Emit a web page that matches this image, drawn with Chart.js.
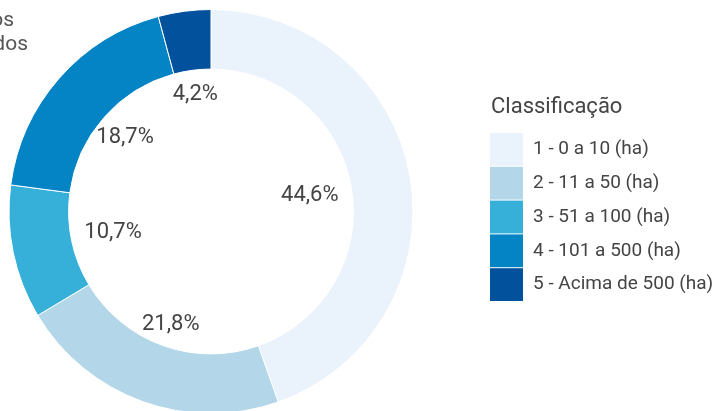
<!DOCTYPE html>
<html lang="pt-BR">
<head>
<meta charset="utf-8">
<title>Classificação por área</title>
<script src="https://cdn.jsdelivr.net/npm/chart.js@4.4.1/dist/chart.umd.min.js"></script>
<style>
  html, body { margin: 0; padding: 0; background: #ffffff; overflow: hidden; }
  canvas { display: block; }
</style>
</head>
<body>
<canvas id="chart" width="721" height="411"></canvas>
<script>
// Area classes (hectares) and their share of establishments, in %
const categories = ['1 - 0 a 10 (ha)', '2 - 11 a 50 (ha)', '3 - 51 a 100 (ha)', '4 - 101 a 500 (ha)', '5 - Acima de 500 (ha)'];
const shares = [44.6, 21.8, 10.7, 18.7, 4.2];
const sliceColors = ['#EAF2FC', '#B3D7E8', '#36AFD9', '#0484C5', '#01519D'];
const legendTitle = 'Classificação';
const titleLines = ['Estabelecimentos', 'classificados'];

const FONT = 'Roboto, "Noto Sans", sans-serif';
const TEXT = '#444444';

const fmtPct = v => v.toFixed(1).replace('.', ',') + '%';

// Percent labels just inside the hole, box edge kept a fixed distance from the ring
const pctLabels = {
  id: 'pctLabels',
  afterDatasetsDraw(chart) {
    const ctx = chart.ctx;
    const meta = chart.getDatasetMeta(0);
    ctx.save();
    ctx.font = '22px ' + FONT;
    ctx.fillStyle = TEXT;
    ctx.textAlign = 'center';
    ctx.textBaseline = 'middle';
    meta.data.forEach((arc, i) => {
      const p = arc.getProps(['x', 'y', 'startAngle', 'endAngle', 'innerRadius'], true);
      const mid = (p.startAngle + p.endAngle) / 2;
      const dx = Math.cos(mid), dy = Math.sin(mid);
      const txt = fmtPct(chart.data.datasets[0].data[i]);
      const w = ctx.measureText(txt).width;
      const h = 20;
      const r = p.innerRadius - 13;
      const tx = Math.abs(dx) > 1e-6 ? (w / 2) / Math.abs(dx) : Infinity;
      const ty = Math.abs(dy) > 1e-6 ? (h / 2) / Math.abs(dy) : Infinity;
      const t = Math.min(tx, ty);
      ctx.fillText(txt, p.x + dx * (r - t), p.y + dy * (r - t) + 1);
    });
    ctx.restore();
  }
};

// Legend with square swatches stacked on the right
const sideLegend = {
  id: 'sideLegend',
  afterDraw(chart) {
    const ctx = chart.ctx;
    const ds = chart.data.datasets[0];
    const x0 = 490, top = 133, box = 33, pitch = 33.8;
    ctx.save();
    ctx.fillStyle = TEXT;
    ctx.font = '22px ' + FONT;
    ctx.textAlign = 'left';
    ctx.textBaseline = 'alphabetic';
    ctx.fillText(legendTitle, x0 + 1, 113);
    ctx.font = '19px ' + FONT;
    ctx.textBaseline = 'middle';
    chart.data.labels.forEach((lab, i) => {
      const y = top + i * pitch;
      ctx.fillStyle = ds.backgroundColor[i];
      ctx.fillRect(x0, y, box, pitch - 1);
      ctx.fillStyle = TEXT;
      ctx.fillText(lab, x0 + 43, y + (pitch - 1) / 2);
    });
    ctx.restore();
  }
};

// Heading in the top-left corner
const cornerTitle = {
  id: 'cornerTitle',
  afterDraw(chart) {
    const ctx = chart.ctx;
    ctx.save();
    ctx.fillStyle = '#555555';
    ctx.font = '21px ' + FONT;
    ctx.textAlign = 'right';
    ctx.textBaseline = 'alphabetic';
    ctx.fillText(titleLines[0], 14, 26);
    ctx.fillText(titleLines[1], 28, 50);
    ctx.restore();
  }
};

new Chart(document.getElementById('chart'), {
  type: 'doughnut',
  data: {
    labels: categories,
    datasets: [{
      data: shares,
      backgroundColor: sliceColors,
      borderColor: '#ffffff',
      borderWidth: 1,
      radius: 202,
      cutout: '70.5%',
      clip: false
    }]
  },
  options: {
    responsive: false,
    animation: false,
    layout: { padding: { left: 0, right: 299, top: 12, bottom: 0 } },
    plugins: {
      legend: { display: false },
      tooltip: { enabled: false }
    }
  },
  plugins: [pctLabels, sideLegend, cornerTitle]
});
</script>
</body>
</html>
